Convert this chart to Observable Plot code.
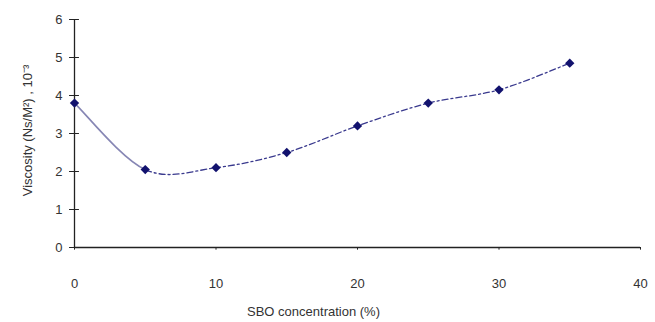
<!DOCTYPE html>
<html>
<head>
<meta charset="utf-8">
<script src="https://cdn.jsdelivr.net/npm/d3@7"></script>
<script src="https://cdn.jsdelivr.net/npm/@observablehq/plot@0.6"></script>
<style>
  html, body { margin: 0; padding: 0; background: #fff; }
  #chart svg { display: block; }
</style>
</head>
<body>
<div id="chart"></div>
<script>
const concentration = [0, 5, 10, 15, 20, 25, 30, 35];
const viscosity = [3.8, 2.05, 2.1, 2.5, 3.2, 3.8, 4.15, 4.85];
const xTicks = [0, 10, 20, 30, 40];
const yTicks = [0, 1, 2, 3, 4, 5, 6];
const xLabel = "SBO concentration (%)";
const yLabel = "Viscosity (Ns/M²) , 10⁻³";

const data = concentration.map((c, i) => ({c, v: viscosity[i]}));

// spreadsheet-style smoothed line (Bezier, tangents from neighbours, chord at ends)
function smoothCurve(context) {
  let pts = [];
  return {
    areaStart() {}, areaEnd() {},
    lineStart() { pts = []; },
    point(x, y) { pts.push([+x, +y]); },
    lineEnd() {
      const n = pts.length;
      if (!n) return;
      context.moveTo(pts[0][0], pts[0][1]);
      for (let i = 0; i < n - 1; i++) {
        const p0 = pts[Math.max(i - 1, 0)], p1 = pts[i], p2 = pts[i + 1], p3 = pts[Math.min(i + 2, n - 1)];
        context.bezierCurveTo(
          p1[0] + (p2[0] - p0[0]) / 6, p1[1] + (p2[1] - p0[1]) / 6,
          p2[0] - (p3[0] - p1[0]) / 6, p2[1] - (p3[1] - p1[1]) / 6,
          p2[0], p2[1]
        );
      }
    }
  };
}

const chart = Plot.plot({
  width: 655,
  height: 322,
  marginLeft: 74,
  marginRight: 15,
  marginTop: 19,
  marginBottom: 75,
  style: {fontFamily: "Liberation Sans, Arial, sans-serif", fontSize: "13px", color: "#333", background: "#fff"},
  x: {domain: [0, 40]},
  y: {domain: [0, 6]},
  marks: [
    Plot.axisX(xTicks, {tickSize: 0, tickPadding: 31, label: null, fontSize: 13}),
    Plot.axisY(yTicks, {tickSize: 0, tickPadding: 12, label: null, fontSize: 13}),
    Plot.ruleX([0], {stroke: "#222", strokeWidth: 1.3}),
    Plot.ruleY([0], {stroke: "#222", strokeWidth: 1.3}),
    Plot.ruleY(yTicks, {y: d => d, x1: -0.35, x2: 0.35, stroke: "#222", strokeWidth: 1}),
    Plot.ruleX(xTicks, {x: d => d, y1: -0.07, y2: 0, stroke: "#222", strokeWidth: 1}),
    Plot.line(data, {x: "c", y: "v", curve: smoothCurve, stroke: "#3a3a8e", strokeWidth: 1.3, strokeDasharray: "6,3,2,3"}),
    Plot.line(data, {x: "c", y: "v", curve: smoothCurve, stroke: "#ffffff", strokeWidth: 3, className: "seg-under"}),
    Plot.line(data, {x: "c", y: "v", curve: smoothCurve, stroke: "#8686b4", strokeWidth: 1.6, className: "seg-solid"}),
    Plot.dot(data, {x: "c", y: "v", symbol: "diamond2", r: 4.2, fill: "#12126e", stroke: "none"}),
    Plot.text([xLabel], {frameAnchor: "bottom", dy: 68, dx: -44, fontSize: 13, fill: "#333"}),
    Plot.text([yLabel], {frameAnchor: "left", textAnchor: "middle", dx: -47, dy: -3, rotate: -90, fontSize: 13, fill: "#333"})
  ]
});
document.getElementById("chart").appendChild(chart);

// restrict the solid stroke to the first segment (0 → 5) of the smoothed curve
const xEnd = chart.scale("x").apply(concentration[1]);
chart.querySelectorAll(".seg-solid path, .seg-under path").forEach(p => {
  const total = p.getTotalLength();
  let lo = 0, hi = total;
  for (let k = 0; k < 40; k++) {
    const mid = (lo + hi) / 2;
    if (p.getPointAtLength(mid).x < xEnd) lo = mid; else hi = mid;
  }
  p.setAttribute("stroke-dasharray", `${lo} ${total + 10}`);
});
</script>
</body>
</html>
